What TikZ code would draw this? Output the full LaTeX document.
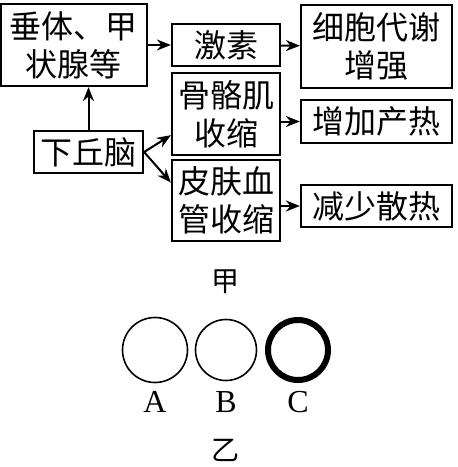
\documentclass[tikz,border=0pt]{standalone}
\usepackage{fontspec}
\newfontfamily\cjk{Noto Sans CJK SC}
\newfontfamily\lat{Liberation Serif}
\usetikzlibrary{arrows.meta}

\tikzset{
  box/.style={draw,line width=1.1pt,inner sep=0pt,align=center,
    font=\cjk\fontsize{16}{19}\selectfont},
  arr/.style={-{Stealth[length=7pt,width=5.5pt]},line width=1pt},
  letter/.style={font=\lat\fontsize{16}{18}\selectfont},
}

\begin{document}
\begin{tikzpicture}[x=0.5pt,y=-0.5pt]
    \useasboundingbox (0,0) rectangle (458,467);
    		\draw (74,45) 	node (chuiti) [box,minimum width=73pt,minimum height=41pt] {垂体、甲\\状腺等};
    		\draw (226,45) 	node (jisu) [box,minimum width=54pt,minimum height=21pt] {激素};
    		\draw (376.5,46.5) 	node (xibao) [box,minimum width=75.5pt,minimum height=41.5pt] {细胞代谢\\增强};
    		\draw (88.5,152) 	node (xqn) [box,minimum width=54.5pt,minimum height=21pt] {下丘脑};
    		\draw (226,114) 	node (gugeji) [box,minimum width=54pt,minimum height=41pt] {骨骼肌\\收缩};
    		\draw (376.5,121.5) 	node (chanre) [box,minimum width=75.5pt,minimum height=21.5pt] {增加产热};
    		\draw (226,200.5) 	node (pifu) [box,minimum width=54pt,minimum height=40.5pt] {皮肤血\\管收缩};
    		\draw (376.5,206) 	node (sanre) [box,minimum width=75.5pt,minimum height=21pt] {减少散热};
    		\draw (chuiti) edge [arr] (jisu);
    		\draw (jisu) edge [arr] (xibao);
    		\draw (xqn.north) edge [arr] (chuiti.south -| xqn.north);
    		\draw (xqn.east) edge [arr] (gugeji.201);
    		\draw (xqn.east) edge [arr] (pifu.162);
    		\draw (gugeji.east |- chanre) edge [arr] (chanre.west);
    		\draw (pifu.east |- sanre) edge [arr] (sanre.west);
    		% 乙
    		\draw (225,282) 	node (jia) [font=\cjk\fontsize{14}{16}\selectfont] {甲};
    		\draw (155,350) 	node (cA) [draw,shape=circle,line width=0.8pt,minimum size=32.5pt] {};
    		\draw (226,350) 	node (cB) [draw,shape=circle,line width=0.8pt,minimum size=30.5pt] {};
    		\draw (298,350) 	node (cC) [draw,shape=circle,line width=3pt,minimum size=30pt] {};
    		\draw (155,402) 	node (lA) [letter] {A};
    		\draw (226,402) 	node (lB) [letter] {B};
    		\draw (298,402) 	node (lC) [letter] {C};
    		\draw (225,450) 	node (yi) [font=\cjk\fontsize{14}{16}\selectfont] {乙};
	 \end{tikzpicture}
\end{document}
